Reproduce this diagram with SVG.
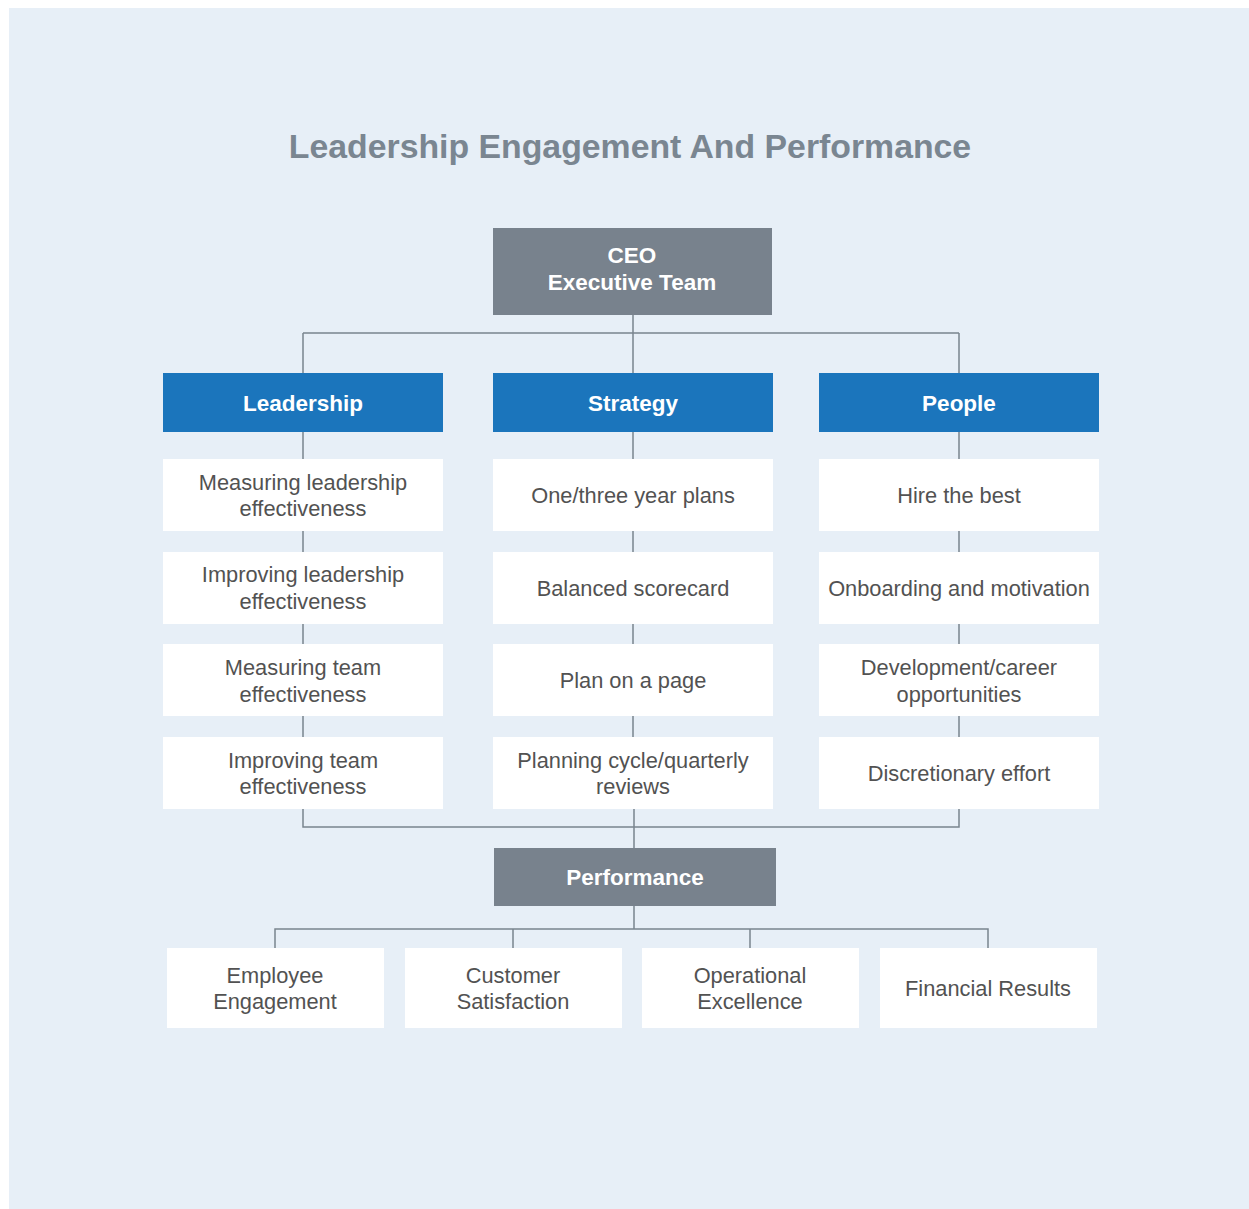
<svg xmlns="http://www.w3.org/2000/svg" width="1249" height="1209" viewBox="0 0 1249 1209">
<style>
.dark{fill:#78828d}
.blue{fill:#1b75bc}
.card{fill:#ffffff}
.hd{font-family:"Liberation Sans",Arial,sans-serif;font-weight:bold;font-size:22.5px;fill:#ffffff;text-anchor:middle}
.tx{font-family:"Liberation Sans",Arial,sans-serif;font-size:21.8px;fill:#525252;text-anchor:middle}
.ln{stroke:#7a858f;stroke-width:1.5;fill:none}
</style>
<rect x="0" y="0" width="1249" height="1209" fill="#ffffff"/>
<rect x="9" y="8" width="1240" height="1201" fill="#e7eff7"/>
<text x="630" y="158" font-family="Liberation Sans,Arial,sans-serif" font-weight="bold" font-size="33.8" fill="#7a8691" text-anchor="middle">Leadership Engagement And Performance</text>
<g id="connectors">
<path class="ln" d="M633 315V373M303 333H959M303 333V373M959 333V373"/>
<path class="ln" d="M303 432V808M633 432V808M959 432V808"/>
<path class="ln" d="M303 808V827H959V808M634 808V848"/>
<path class="ln" d="M634 906V929M275 948V929H988V948M513 929V948M750 929V948"/>
</g>
<g id="ceo"><rect class="dark" x="493" y="228" width="279" height="87"/><text class="hd" x="632" y="263">CEO</text><text class="hd" x="632" y="290">Executive Team</text></g>
<g id="leadership"><rect class="blue" x="163" y="373" width="280" height="59"/><text class="hd" x="303" y="411">Leadership</text></g>
<g id="strategy"><rect class="blue" x="493" y="373" width="280" height="59"/><text class="hd" x="633" y="411">Strategy</text></g>
<g id="people"><rect class="blue" x="819" y="373" width="280" height="59"/><text class="hd" x="959" y="411">People</text></g>
<g id="l1"><rect class="card" x="163" y="459" width="280" height="72"/><text class="tx" x="303" y="490">Measuring leadership</text><text class="tx" x="303" y="516">effectiveness</text></g>
<g id="l2"><rect class="card" x="163" y="552" width="280" height="72"/><text class="tx" x="303" y="582">Improving leadership</text><text class="tx" x="303" y="609">effectiveness</text></g>
<g id="l3"><rect class="card" x="163" y="644" width="280" height="72"/><text class="tx" x="303" y="675">Measuring team</text><text class="tx" x="303" y="702">effectiveness</text></g>
<g id="l4"><rect class="card" x="163" y="737" width="280" height="72"/><text class="tx" x="303" y="768">Improving team</text><text class="tx" x="303" y="794">effectiveness</text></g>
<g id="s1"><rect class="card" x="493" y="459" width="280" height="72"/><text class="tx" x="633" y="503">One/three year plans</text></g>
<g id="s2"><rect class="card" x="493" y="552" width="280" height="72"/><text class="tx" x="633" y="596">Balanced scorecard</text></g>
<g id="s3"><rect class="card" x="493" y="644" width="280" height="72"/><text class="tx" x="633" y="688">Plan on a page</text></g>
<g id="s4"><rect class="card" x="493" y="737" width="280" height="72"/><text class="tx" x="633" y="768">Planning cycle/quarterly</text><text class="tx" x="633" y="794">reviews</text></g>
<g id="p1"><rect class="card" x="819" y="459" width="280" height="72"/><text class="tx" x="959" y="503">Hire the best</text></g>
<g id="p2"><rect class="card" x="819" y="552" width="280" height="72"/><text class="tx" x="959" y="596">Onboarding and motivation</text></g>
<g id="p3"><rect class="card" x="819" y="644" width="280" height="72"/><text class="tx" x="959" y="675">Development/career</text><text class="tx" x="959" y="702">opportunities</text></g>
<g id="p4"><rect class="card" x="819" y="737" width="280" height="72"/><text class="tx" x="959" y="781">Discretionary effort</text></g>
<g id="performance"><rect class="dark" x="494" y="848" width="282" height="58"/><text class="hd" x="635" y="885">Performance</text></g>
<g id="o1"><rect class="card" x="167" y="948" width="217" height="80"/><text class="tx" x="275" y="983">Employee</text><text class="tx" x="275" y="1009">Engagement</text></g>
<g id="o2"><rect class="card" x="405" y="948" width="217" height="80"/><text class="tx" x="513" y="983">Customer</text><text class="tx" x="513" y="1009">Satisfaction</text></g>
<g id="o3"><rect class="card" x="642" y="948" width="217" height="80"/><text class="tx" x="750" y="983">Operational</text><text class="tx" x="750" y="1009">Excellence</text></g>
<g id="o4"><rect class="card" x="880" y="948" width="217" height="80"/><text class="tx" x="988" y="996">Financial Results</text></g>
</svg>
